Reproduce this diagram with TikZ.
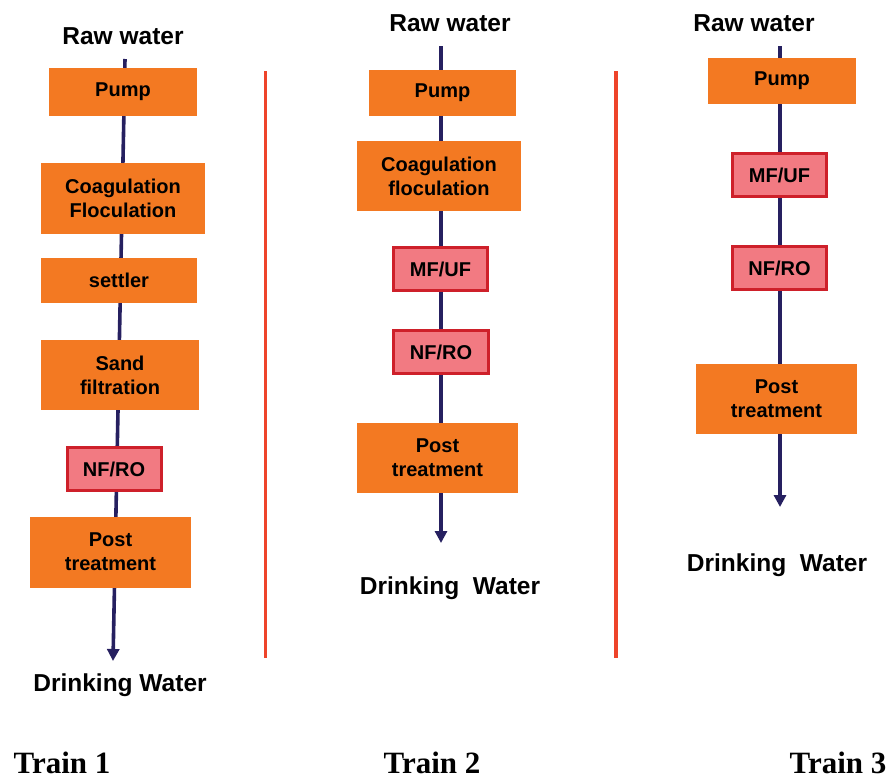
\documentclass[tikz,border=0pt]{standalone}
\usepackage{fontspec}
\setmainfont{Liberation Sans}
\newfontfamily\trainfont{Liberation Serif}
\usetikzlibrary{arrows.meta}
\pgfdeclarelayer{background}
\pgfsetlayers{background,main}
\definecolor{boxorange}{RGB}{243,121,34}
\definecolor{mempink}{RGB}{242,122,130}
\definecolor{memred}{RGB}{206,32,42}
\definecolor{flownavy}{RGB}{38,32,96}
\definecolor{divred}{RGB}{238,68,42}
\tikzset{
  procbox/.style={fill=boxorange, draw=none, align=center,
    font=\fontsize{20}{24}\selectfont\bfseries, inner sep=0pt},
  membox/.style={fill=mempink, draw=memred, line width=3pt, align=center,
    font=\fontsize{20}{24}\selectfont\bfseries, inner sep=0pt},
  headtxt/.style={font=\fontsize{24.5}{28}\selectfont\bfseries, inner sep=0pt},
  traintxt/.style={font=\trainfont\fontsize{31}{34}\selectfont\bfseries, inner sep=0pt},
  flow/.style={draw=flownavy, line width=3.6pt, -{Triangle[width=12pt,length=12pt]}},
  divider/.style={draw=divred, line width=3.5pt}
}
\begin{document}
\begin{tikzpicture}[x=1pt,y=-1pt]
\useasboundingbox (0,0) rectangle (894,780);
% ---------- Train 1 ----------
\node[headtxt] (raw1) at (123,36) {Raw water};
\coordinate (top1) at (125,59);
\coordinate (end1) at (113,661);
\node[procbox, minimum width=148pt, minimum height=48pt] (pump1) at (123,92) {Pump};
\node[procbox, minimum width=164pt, minimum height=71pt] (coag1) at (123,198.5) {Coagulation\\Floculation};
\node[procbox, minimum width=156pt, minimum height=45pt] (settler1) at (119,280.5) {settler};
\node[procbox, minimum width=158pt, minimum height=70pt] (sand1) at (120,375) {Sand\\filtration};
\node[membox, minimum width=94pt, minimum height=43pt] (nfro1) at (114,469) {NF/RO};
\node[procbox, minimum width=161pt, minimum height=71pt] (post1) at (110.5,552) {Post\\treatment};
\node[headtxt] (dw1) at (120,685) {Drinking Water};
\begin{pgfonlayer}{background}
\draw[flow] (top1) -- (end1);
\end{pgfonlayer}
% dividers
\coordinate (d1t) at (265.5,71);
\coordinate (d1b) at (265.5,658);
\coordinate (d2t) at (616,71);
\coordinate (d2b) at (616,658);
\draw[divider] (d1t) -- (d1b);
\draw[divider] (d2t) -- (d2b);
% ---------- Train 2 ----------
\node[headtxt] (raw2) at (450,23) {Raw water};
\coordinate (top2) at (441,46);
\coordinate (end2) at (441,543);
\node[procbox, minimum width=147pt, minimum height=46pt] (pump2) at (442.5,93) {Pump};
\node[procbox, minimum width=164pt, minimum height=70pt] (coag2) at (439,176) {Coagulation\\floculation};
\node[membox, minimum width=94pt, minimum height=43pt] (mfuf2) at (440.5,269) {MF/UF};
\node[membox, minimum width=95pt, minimum height=43pt] (nfro2) at (441,352) {NF/RO};
\node[procbox, minimum width=161pt, minimum height=70pt] (post2) at (437.5,458) {Post\\treatment};
\node[headtxt] (dw2) at (450,588) {Drinking\ \ Water};
\begin{pgfonlayer}{background}
\draw[flow] (top2) -- (end2);
\end{pgfonlayer}
% ---------- Train 3 ----------
\node[headtxt] (raw3) at (754,23) {Raw water};
\coordinate (top3) at (780,46);
\coordinate (end3) at (780,507);
\node[procbox, minimum width=148pt, minimum height=46pt] (pump3) at (782,81) {Pump};
\node[membox, minimum width=94pt, minimum height=43pt] (mfuf3) at (779.5,175) {MF/UF};
\node[membox, minimum width=94pt, minimum height=43pt] (nfro3) at (779.5,268) {NF/RO};
\node[procbox, minimum width=161pt, minimum height=70pt] (post3) at (776.5,399) {Post\\treatment};
\node[headtxt] (dw3) at (777,565) {Drinking\ \ Water};
\begin{pgfonlayer}{background}
\draw[flow] (top3) -- (end3);
\end{pgfonlayer}
% ---------- Train labels ----------
\node[traintxt, anchor=base] (t1) at (62,773) {Train 1};
\node[traintxt, anchor=base] (t2) at (432,773) {Train 2};
\node[traintxt, anchor=base] (t3) at (838,773) {Train 3};
\end{tikzpicture}
\end{document}
